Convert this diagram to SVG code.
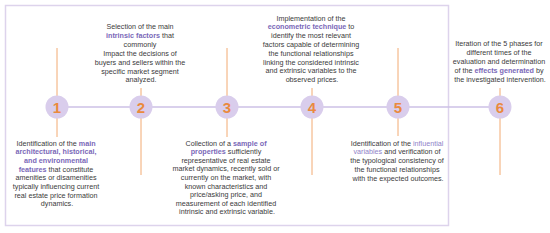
<svg xmlns="http://www.w3.org/2000/svg" width="550" height="233" viewBox="0 0 550 233">
<style>
.t{font-family:"Liberation Sans",Arial,sans-serif;font-size:7.2px;fill:#3a3a3a;text-anchor:middle}
.h{fill:#7a68b8;font-weight:bold}
.hn{fill:#8f82c8}
.n{font-family:"Liberation Sans",Arial,sans-serif;font-size:15px;font-weight:bold;fill:#ea8a3e;text-anchor:middle}
.c{fill:#d9cdec}
.v{stroke:#f2aa72;stroke-width:1}
.hl{stroke:#cdc1e6;stroke-width:1.5}
</style>
<rect x="5.5" y="5.5" width="443" height="220" fill="none" stroke="#ddd3ec" stroke-width="1.5"/>
<g id="connectors">
<line class="hl" x1="57" y1="107" x2="500" y2="107"/>
<line class="v" x1="57" y1="48" x2="57" y2="137"/>
<line class="v" x1="141" y1="88" x2="141" y2="175"/>
<line class="v" x1="227" y1="48" x2="227" y2="137"/>
<line class="v" x1="312" y1="88" x2="312" y2="175"/>
<line class="v" x1="398" y1="48" x2="398" y2="136"/>
<line class="v" x1="500" y1="88" x2="500" y2="175"/>
</g>
<g id="node1">
<circle class="c" cx="57" cy="107" r="11.5"/>
<text class="n" x="57" y="112.5">1</text>
<text class="t" x="57" y="145.5">
<tspan x="57">Identification of the <tspan class="h">main</tspan></tspan>
<tspan x="57" dy="8.7" class="h">architectural, historical,</tspan>
<tspan x="57" dy="8.7" class="h">and environmental</tspan>
<tspan x="57" dy="8.7"><tspan class="h">features</tspan> that constitute</tspan>
<tspan x="57" dy="8.7">amenities or disamenities</tspan>
<tspan x="57" dy="8.7">typically influencing current</tspan>
<tspan x="57" dy="8.7">real estate price formation</tspan>
<tspan x="57" dy="8.7">dynamics.</tspan>
</text>
</g>
<g id="node2">
<circle class="c" cx="141" cy="107" r="11.5"/>
<text class="n" x="141" y="112.5">2</text>
<text class="t" x="141" y="29">
<tspan x="141">Selection of the main</tspan>
<tspan x="141" dy="8.9"><tspan class="h">intrinsic factors</tspan> that</tspan>
<tspan x="141" dy="8.9">commonly</tspan>
<tspan x="141" dy="8.9">Impact the decisions of</tspan>
<tspan x="141" dy="8.9">buyers and sellers within the</tspan>
<tspan x="141" dy="8.9">specific market segment</tspan>
<tspan x="141" dy="8.9">analyzed.</tspan>
</text>
</g>
<g id="node3">
<circle class="c" cx="227" cy="107" r="11.5"/>
<text class="n" x="227" y="112.5">3</text>
<text class="t" x="227" y="145.5">
<tspan x="227">Collection of a <tspan class="h">sample of</tspan></tspan>
<tspan x="227" dy="8.6"><tspan class="h">properties</tspan> sufficiently</tspan>
<tspan x="227" dy="8.6">representative of real estate</tspan>
<tspan x="227" dy="8.6">market dynamics, recently sold or</tspan>
<tspan x="227" dy="8.6">currently on the market, with</tspan>
<tspan x="227" dy="8.6">known characteristics and</tspan>
<tspan x="227" dy="8.6">price/asking price, and</tspan>
<tspan x="227" dy="8.6">measurement of each identified</tspan>
<tspan x="227" dy="8.6">intrinsic and extrinsic variable.</tspan>
</text>
</g>
<g id="node4">
<circle class="c" cx="312" cy="107" r="11.5"/>
<text class="n" x="312" y="112.5">4</text>
<text class="t" x="312" y="20.5">
<tspan x="312">Implementation of the</tspan>
<tspan x="312" dy="8.8"><tspan class="h">econometric technique</tspan> to</tspan>
<tspan x="312" dy="8.8">identify the most relevant</tspan>
<tspan x="312" dy="8.8">factors capable of determining</tspan>
<tspan x="312" dy="8.8">the functional relationships</tspan>
<tspan x="312" dy="8.8">linking the considered intrinsic</tspan>
<tspan x="312" dy="8.8">and extrinsic variables to the</tspan>
<tspan x="312" dy="8.8">observed prices.</tspan>
</text>
</g>
<g id="node5">
<circle class="c" cx="398" cy="107" r="11.5"/>
<text class="n" x="398" y="112.5">5</text>
<text class="t" x="398" y="145.5">
<tspan x="398">Identification of the <tspan class="hn">influential</tspan></tspan>
<tspan x="398" dy="8.8"><tspan class="hn">variables</tspan> and verification of</tspan>
<tspan x="398" dy="8.8">the typological consistency of</tspan>
<tspan x="398" dy="8.8">the functional relationships</tspan>
<tspan x="398" dy="8.8">with the expected outcomes.</tspan>
</text>
</g>
<g id="node6">
<circle class="c" cx="500" cy="107" r="11.5"/>
<text class="n" x="500" y="112.5">6</text>
<text class="t" x="500" y="45.5">
<tspan x="500">Iteration of the 5 phases for</tspan>
<tspan x="500" dy="9">different times of the</tspan>
<tspan x="500" dy="9">evaluation and determination</tspan>
<tspan x="500" dy="9">of the <tspan class="h">effects generated</tspan> by</tspan>
<tspan x="500" dy="9">the investigated intervention.</tspan>
</text>
</g>
</svg>
